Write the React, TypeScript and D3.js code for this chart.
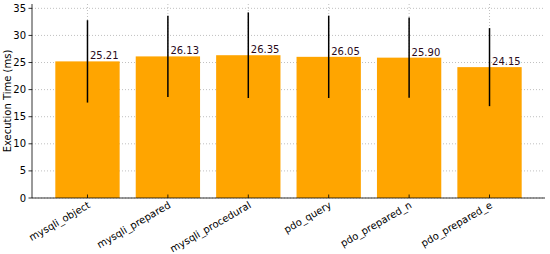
import React from "react";
import * as d3 from "d3";

const categories = ["mysqli_object", "mysqli_prepared", "mysqli_procedural", "pdo_query", "pdo_prepared_n", "pdo_prepared_e"];
const means = [25.21, 26.13, 26.35, 26.05, 25.9, 24.15];
const errors = [7.6, 7.5, 7.9, 7.6, 7.4, 7.2];
const yTicks = [0, 5, 10, 15, 20, 25, 30, 35];

const W = 550, H = 254;
const left = 32, right = 545, top = 4, bottom = 198;

export default function App() {
  const x = d3.scaleLinear().domain([-0.69, categories.length - 1 + 0.69]).range([left, right]);
  const y = d3.scaleLinear().domain([0, 35.8]).range([bottom, top]);
  const bw = x(0.8) - x(0);
  const font = "DejaVu Sans, sans-serif";
  return (
    <svg width={W} height={H} style={{ position: "absolute", left: 0, top: 0, background: "#fff" }}>
      {yTicks.map((t) => (
        <line key={"gy" + t} x1={left} x2={right} y1={y(t)} y2={y(t)} stroke="#b0b0b0" strokeWidth={0.8} strokeDasharray="1,2" />
      ))}
      {categories.map((c, i) => (
        <line key={"gx" + c} x1={x(i)} x2={x(i)} y1={top} y2={bottom} stroke="#b0b0b0" strokeWidth={0.8} strokeDasharray="1,2" />
      ))}
      {categories.map((c, i) => (
        <rect key={"b" + c} x={x(i) - bw / 2} y={y(means[i])} width={bw} height={y(0) - y(means[i])} fill="#FFA500" />
      ))}
      {categories.map((c, i) => (
        <line key={"e" + c} x1={x(i)} x2={x(i)} y1={y(means[i] + errors[i])} y2={y(means[i] - errors[i])} stroke="#000" strokeWidth={1.5} />
      ))}
      {categories.map((c, i) => (
        <text key={"l" + c} x={x(i) + 2.5} y={y(means[i]) - 2} fontFamily={font} fontSize={10} fill="#2a0a1a">
          {means[i].toFixed(2)}
        </text>
      ))}
      <line x1={left} x2={left} y1={top} y2={bottom} stroke="#000" strokeWidth={0.8} />
      <line x1={left} x2={right} y1={bottom} y2={bottom} stroke="#000" strokeWidth={0.8} />
      {yTicks.map((t) => (
        <g key={"yt" + t}>
          <line x1={left - 3.5} x2={left} y1={y(t)} y2={y(t)} stroke="#000" strokeWidth={0.8} />
          <text x={left - 6} y={y(t)} dy="0.35em" textAnchor="end" fontFamily={font} fontSize={10} fill="#000">{t}</text>
        </g>
      ))}
      {categories.map((c, i) => (
        <g key={"xt" + c}>
          <line x1={x(i)} x2={x(i)} y1={bottom - 3.5} y2={bottom} stroke="#000" strokeWidth={0.8} />
          <text transform={`translate(${x(i)},${bottom + 3}) rotate(-30)`} textAnchor="end" dy="0.7em" fontFamily={font} fontSize={10} fill="#000">{c}</text>
        </g>
      ))}
      <text transform={`translate(11,${(top + bottom) / 2}) rotate(-90)`} textAnchor="middle" fontFamily={font} fontSize={10} fill="#000">Execution Time (ms)</text>
    </svg>
  );
}
